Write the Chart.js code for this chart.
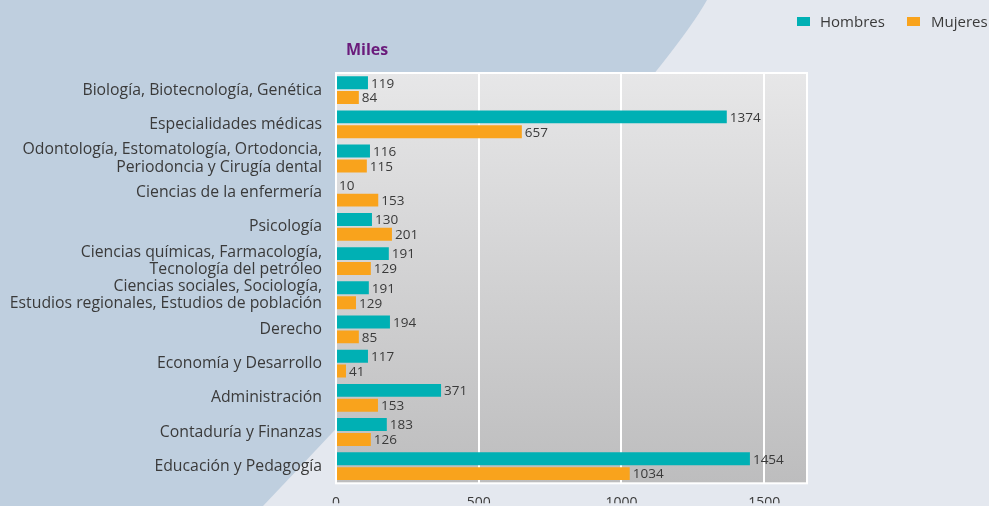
<!DOCTYPE html>
<html>
<head>
<meta charset="utf-8">
<script src="https://cdn.jsdelivr.net/npm/chart.js@4.4.0/dist/chart.umd.min.js"></script>
<style>
  html, body { margin: 0; padding: 0; background: #e4e8ef; overflow: hidden; }
  #wrap { position: relative; width: 989px; height: 506px; }
</style>
</head>
<body>
<div id="wrap"><canvas id="chart"></canvas></div>
<script>
const categories = [
    'Biología, Biotecnología, Genética',
    'Especialidades médicas',
    ['Odontología, Estomatología, Ortodoncia,', 'Periodoncia y Cirugía dental'],
    'Ciencias de la enfermería',
    'Psicología',
    ['Ciencias químicas, Farmacología,', 'Tecnología del petróleo'],
    ['Ciencias sociales, Sociología,', 'Estudios regionales, Estudios de población'],
    'Derecho',
    'Economía y Desarrollo',
    'Administración',
    'Contaduría y Finanzas',
    'Educación y Pedagogía'
];

// bar lengths as drawn in the picture
const hombres = [112, 1369, 119, 0, 126, 185, 115, 189, 112, 368, 178, 1450];
const mujeres = [80, 651, 108, 148, 196, 122, 70, 80, 35, 147, 122, 1029];

// numbers printed next to the bars
const hombresLabels = [119, 1374, 116, 10, 130, 191, 191, 194, 117, 371, 183, 1454];
const mujeresLabels = [84, 657, 115, 153, 201, 129, 129, 85, 41, 153, 126, 1034];

const xTicks = [0, 500, 1000, 1500];
const xMax = 1650;
const unitLabel = 'Miles';

const teal = '#00b0b4';
const orange = '#f9a31c';
const textColor = '#3a3a3a';

Chart.defaults.font.family = '"Open Sans", sans-serif';

const decor = {
    id: 'decor',
    beforeDraw(chart) {
        const {ctx, chartArea: a, width, height} = chart;
        ctx.save();
        ctx.fillStyle = '#e4e8ef';
        ctx.fillRect(0, 0, width, height);
        ctx.fillStyle = '#bfcfdf';
        ctx.beginPath();
        ctx.moveTo(0, 0);
        ctx.lineTo(707, 0);
        ctx.quadraticCurveTo(656, 92, 263, height);
        ctx.lineTo(0, height);
        ctx.closePath();
        ctx.fill();
        const g = ctx.createLinearGradient(0, a.top, 0, a.bottom);
        g.addColorStop(0, '#e7e7e8');
        g.addColorStop(1, '#bdbdbe');
        ctx.fillStyle = g;
        ctx.fillRect(a.left, a.top, a.right - a.left, a.bottom - a.top);
        ctx.restore();
    },
    beforeDatasetsDraw(chart) {
        const {ctx, chartArea: a} = chart;
        ctx.save();
        ctx.strokeStyle = '#ffffff';
        ctx.lineWidth = 2;
        ctx.strokeRect(a.left, a.top, a.right - a.left, a.bottom - a.top);
        ctx.restore();
    },
    afterDatasetsDraw(chart) {
        const {ctx} = chart;
        const texts = [hombresLabels, mujeresLabels];
        ctx.save();
        ctx.font = '13.5px "Open Sans", sans-serif';
        ctx.fillStyle = textColor;
        ctx.textAlign = 'left';
        ctx.textBaseline = 'middle';
        chart.data.datasets.forEach((ds, d) => {
            chart.getDatasetMeta(d).data.forEach((bar, i) => {
                ctx.fillText(String(texts[d][i]), bar.x + 3, bar.y + 1);
            });
        });
        ctx.restore();
    },
    afterDraw(chart) {
        const {ctx, chartArea: a} = chart;
        ctx.save();
        // unit title
        ctx.font = 'bold 16px "Open Sans", sans-serif';
        ctx.fillStyle = '#6a1b7b';
        ctx.textBaseline = 'middle';
        ctx.fillText(unitLabel, a.left + 10, 50);
        // legend
        ctx.font = '15px "Open Sans", sans-serif';
        const items = [[797, 820], [907, 931]];
        chart.data.datasets.forEach((ds, d) => {
            ctx.fillStyle = ds.backgroundColor;
            ctx.fillRect(items[d][0], 17, 13, 9);
            ctx.fillStyle = textColor;
            ctx.fillText(ds.label, items[d][1], 23);
        });
        ctx.restore();
    }
};

new Chart(document.getElementById('chart'), {
    type: 'bar',
    data: {
        labels: categories,
        datasets: [{
            label: 'Hombres',
            data: hombres,
            backgroundColor: teal,
            categoryPercentage: 0.87,
            barPercentage: 0.87
        }, {
            label: 'Mujeres',
            data: mujeres,
            backgroundColor: orange,
            categoryPercentage: 0.87,
            barPercentage: 0.87
        }]
    },
    options: {
        indexAxis: 'y',
        responsive: true,
        maintainAspectRatio: false,
        animation: false,
        layout: {
            padding: {top: 73, right: 182, bottom: 0, left: 0}
        },
        scales: {
            x: {
                min: 0,
                max: xMax,
                afterBuildTicks: scale => {
                    scale.ticks = xTicks.map(v => ({value: v}));
                },
                afterFit: scale => { scale.height = 20; },
                ticks: {
                    color: textColor,
                    padding: 11,
                    font: {size: 14},
                    callback: v => String(v)
                },
                grid: {
                    color: '#ffffff',
                    lineWidth: 2,
                    drawTicks: false
                },
                border: {display: false}
            },
            y: {
                afterFit: scale => { scale.width = 336; },
                ticks: {
                    color: textColor,
                    padding: 14,
                    autoSkip: false,
                    font: {size: 15.8, lineHeight: 1.1}
                },
                grid: {display: false, drawTicks: false},
                border: {display: false}
            }
        },
        plugins: {
            legend: {display: false},
            tooltip: {enabled: false}
        }
    },
    plugins: [decor]
});
</script>
</body>
</html>
